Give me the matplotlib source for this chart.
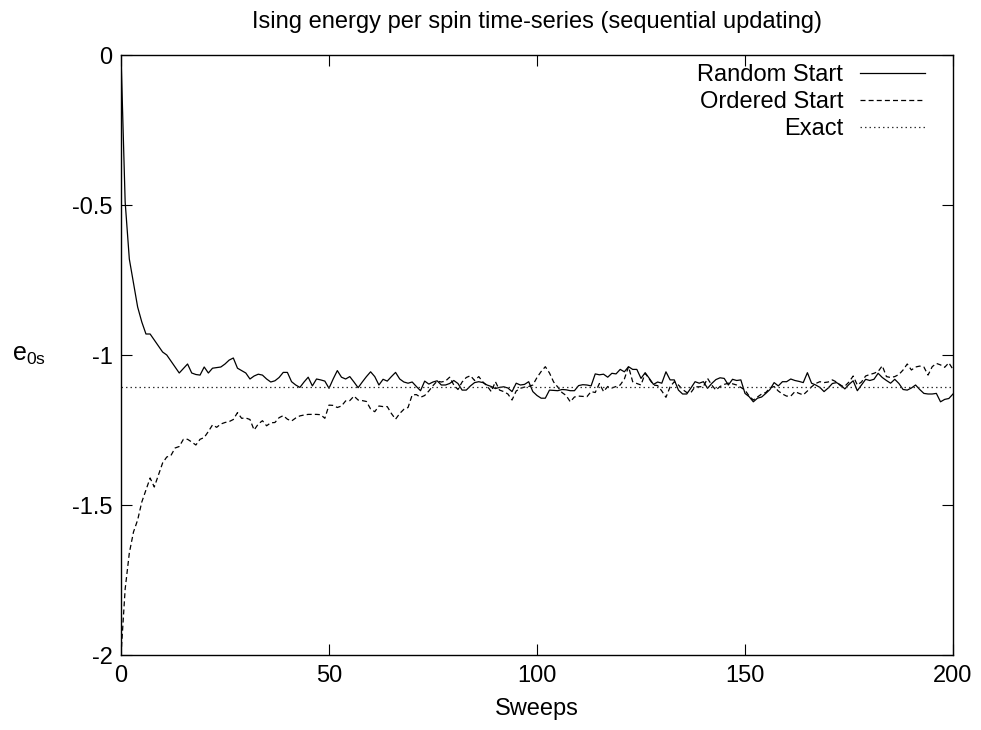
import matplotlib
matplotlib.use("Agg")
import matplotlib.pyplot as plt
import numpy as np

plt.rcParams['font.family'] = ['Liberation Sans', 'DejaVu Sans']

# valores (energia por spin vs barridos)
sweeps = np.arange(0, 201)

random_start = [
    0.0, -0.49, -0.68, -0.76, -0.84, -0.89, -0.93, -0.93, -0.95, -0.97,
    -0.99, -1.00, -1.02, -1.04, -1.06, -1.045, -1.03, -1.06, -1.065, -1.067,
    -1.04, -1.06, -1.044, -1.042, -1.04, -1.03, -1.017, -1.01, -1.044, -1.052,
    -1.06, -1.08, -1.07, -1.064, -1.067, -1.08, -1.09, -1.086, -1.075, -1.058,
    -1.058, -1.089, -1.10, -1.108, -1.09, -1.074, -1.103, -1.08, -1.083, -1.087,
    -1.111, -1.08, -1.052, -1.074, -1.08, -1.072, -1.09, -1.109, -1.09, -1.072,
    -1.056, -1.072, -1.10, -1.081, -1.087, -1.072, -1.058, -1.08, -1.09, -1.094,
    -1.09, -1.105, -1.119, -1.087, -1.097, -1.09, -1.086, -1.10, -1.10, -1.095,
    -1.085, -1.095, -1.117, -1.117, -1.103, -1.092, -1.089, -1.092, -1.10, -1.105,
    -1.112, -1.108, -1.106, -1.11, -1.122, -1.094, -1.10, -1.098, -1.089, -1.122,
    -1.135, -1.144, -1.144, -1.117, -1.118, -1.119, -1.115, -1.116, -1.119, -1.119,
    -1.102, -1.099, -1.10, -1.103, -1.063, -1.066, -1.064, -1.074, -1.061, -1.063,
    -1.048, -1.056, -1.039, -1.048, -1.048, -1.078, -1.059, -1.078, -1.098, -1.09,
    -1.094, -1.056, -1.083, -1.083, -1.117, -1.13, -1.13, -1.11, -1.089, -1.094,
    -1.089, -1.111, -1.095, -1.082, -1.076, -1.078, -1.10, -1.081, -1.085, -1.083,
    -1.128, -1.139, -1.156, -1.144, -1.14, -1.128, -1.115, -1.092, -1.103, -1.089,
    -1.089, -1.08, -1.085, -1.088, -1.092, -1.059, -1.094, -1.10, -1.108, -1.122,
    -1.11, -1.095, -1.092, -1.10, -1.113, -1.098, -1.086, -1.119, -1.10, -1.081,
    -1.085, -1.081, -1.061, -1.075, -1.085, -1.094, -1.081, -1.095, -1.115, -1.117,
    -1.11, -1.10, -1.115, -1.128, -1.13, -1.13, -1.128, -1.156, -1.148, -1.145,
    -1.13,
]

ordered_start = [
    -2.0, -1.78, -1.66, -1.59, -1.55, -1.49, -1.45, -1.41, -1.44, -1.40,
    -1.36, -1.34, -1.335, -1.31, -1.305, -1.281, -1.281, -1.29, -1.30, -1.281,
    -1.275, -1.255, -1.233, -1.241, -1.23, -1.225, -1.222, -1.215, -1.192, -1.211,
    -1.21, -1.215, -1.25, -1.23, -1.219, -1.236, -1.226, -1.225, -1.209, -1.202,
    -1.214, -1.22, -1.21, -1.203, -1.20, -1.198, -1.198, -1.198, -1.199, -1.211,
    -1.167, -1.168, -1.175, -1.17, -1.153, -1.152, -1.137, -1.15, -1.152, -1.155,
    -1.18, -1.189, -1.17, -1.172, -1.172, -1.195, -1.214, -1.195, -1.181, -1.175,
    -1.133, -1.132, -1.141, -1.135, -1.12, -1.102, -1.087, -1.09, -1.087, -1.074,
    -1.10, -1.115, -1.09, -1.075, -1.069, -1.085, -1.072, -1.09, -1.103, -1.122,
    -1.089, -1.117, -1.122, -1.13, -1.15, -1.12, -1.111, -1.107, -1.105, -1.10,
    -1.075, -1.055, -1.039, -1.06, -1.09, -1.107, -1.125, -1.135, -1.156, -1.14,
    -1.137, -1.138, -1.139, -1.122, -1.125, -1.095, -1.122, -1.105, -1.11, -1.105,
    -1.10, -1.08, -1.039, -1.089, -1.095, -1.10, -1.061, -1.08, -1.10, -1.102,
    -1.12, -1.141, -1.106, -1.089, -1.10, -1.115, -1.125, -1.125, -1.106, -1.106,
    -1.105, -1.078, -1.10, -1.117, -1.105, -1.098, -1.094, -1.096, -1.10, -1.108,
    -1.117, -1.137, -1.15, -1.14, -1.13, -1.125, -1.11, -1.105, -1.12, -1.13,
    -1.137, -1.137, -1.122, -1.128, -1.133, -1.12, -1.106, -1.095, -1.089, -1.092,
    -1.09, -1.083, -1.09, -1.103, -1.104, -1.09, -1.07, -1.10, -1.09, -1.07,
    -1.065, -1.061, -1.055, -1.036, -1.072, -1.075, -1.072, -1.065, -1.05, -1.03,
    -1.05, -1.04, -1.037, -1.04, -1.067, -1.039, -1.028, -1.033, -1.041, -1.026,
    -1.048,
]

exact_value = -1.108

fig = plt.figure(figsize=(9.81, 7.30), dpi=100)
ax = fig.add_axes([121 / 981, 75 / 730, 832 / 981, 600 / 730])

ax.plot(sweeps, random_start, color='black', lw=0.9, ls='-', label='Random Start')
ax.plot(sweeps, ordered_start, color='black', lw=0.9, ls=(0, (4, 2.5)), label='Ordered Start')
ax.axhline(exact_value, color='#333333', lw=0.9, ls=(0, (1.2, 2.4)), label='Exact')

ax.set_xlim(0, 200)
ax.set_ylim(-2, 0)
ax.set_xticks([0, 50, 100, 150, 200])
ax.set_yticks([0, -0.5, -1, -1.5, -2])
ax.set_yticklabels(['0', '-0.5', '-1', '-1.5', '-2'])
ax.tick_params(direction='in', length=8, width=0.8, top=True, right=True,
               labelsize=17)
ax.tick_params(axis='y', pad=6)
ax.tick_params(axis='x', pad=7)
for s in ax.spines.values():
    s.set_linewidth(1.0)

fig.text(537 / 981, 1 - 709 / 730, 'Sweeps', fontsize=17, ha='center', va='center')
fig.text(12 / 981, 1 - 355 / 730, r'$\mathregular{e_{0s}}$', fontsize=18,
         ha='left', va='center')
fig.text(537 / 981, 1 - 22 / 730,
         'Ising energy per spin time-series (sequential updating)',
         fontsize=17, ha='center', va='center')

leg = ax.legend(loc='upper right', frameon=False, markerfirst=False,
                fontsize=17, handlelength=2.75, handletextpad=0.72,
                labelspacing=0.2, borderaxespad=0.0,
                bbox_to_anchor=(0.978, 1.0))

fig.savefig('out.png', dpi=100)
